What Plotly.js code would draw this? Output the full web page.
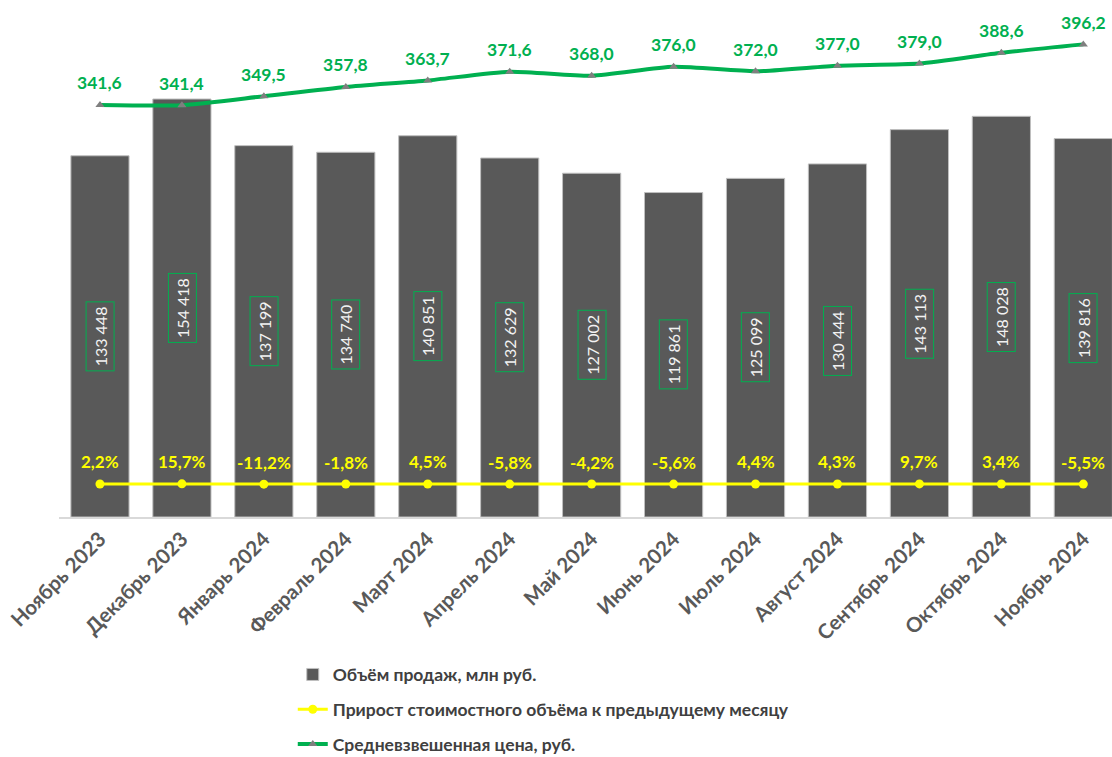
<!DOCTYPE html>
<html>
<head>
<meta charset="utf-8">
<script src="https://cdn.plot.ly/plotly-3.0.1.min.js"></script>
<style>html,body{margin:0;padding:0;background:#fff;}#chart{width:1112px;height:757px;}</style>
</head>
<body>
<div id="chart"></div>
<script>
const categories = ["Ноябрь 2023","Декабрь 2023","Январь 2024","Февраль 2024","Март 2024","Апрель 2024","Май 2024","Июнь 2024","Июль 2024","Август 2024","Сентябрь 2024","Октябрь 2024","Ноябрь 2024"];
const salesVolume = [133448,154418,137199,134740,140851,132629,127002,119861,125099,130444,143113,148028,139816];
const growthPct = [2.2,15.7,-11.2,-1.8,4.5,-5.8,-4.2,-5.6,4.4,4.3,9.7,3.4,-5.5];
const avgPrice = [341.6,341.4,349.5,357.8,363.7,371.6,368.0,376.0,372.0,377.0,379.0,388.6,396.2];

const FONT = "Lato, 'Open Sans', sans-serif";
const GREEN = "#00b050";
const YELLOW = "#ffff00";
const BAR = "#595959";

const fmtThousands = v => String(v).replace(/\B(?=(\d{3})+(?!\d))/g, " ");
const fmtDec = v => v.toFixed(1).replace(".", ",");

const growthFrac = growthPct.map(v => v / 100);

const traces = [
  {
    type: "bar", name: "Объём продаж, млн руб.", x: categories, y: salesVolume,
    marker: {color: BAR, line: {color: "#bfbfbf", width: 1}}, width: 0.71,
    legendgroup: "a", hoverinfo: "x+y"
  },
  {
    type: "scatter", mode: "lines+markers", name: "Прирост стоимостного объёма к предыдущему месяцу",
    x: categories, y: growthFrac, yaxis: "y2",
    line: {color: YELLOW, width: 3}, marker: {color: YELLOW, size: 9, symbol: "circle"},
    legendgroup: "b"
  },
  {
    type: "scatter", mode: "lines+markers", name: "Средневзвешенная цена, руб.",
    x: categories, y: avgPrice, yaxis: "y2",
    line: {color: GREEN, width: 4, shape: "spline", smoothing: 0.6},
    marker: {color: "#7f7f7f", size: 8, symbol: "triangle-up"},
    legendgroup: "c"
  }
];

const annotations = [];
categories.forEach((c, i) => {
  annotations.push({
    x: c, y: salesVolume[i] / 2, xref: "x", yref: "y", showarrow: false,
    text: fmtThousands(salesVolume[i]), textangle: -90,
    font: {family: FONT, size: 16, color: "#f2f2f2"},
    bordercolor: GREEN, borderwidth: 1, borderpad: 4
  });
  annotations.push({
    x: c, y: avgPrice[i], xref: "x", yref: "y2", showarrow: false, yshift: 22,
    text: fmtDec(avgPrice[i]),
    font: {family: FONT, size: 17.5, color: GREEN, weight: "bold"}
  });
  annotations.push({
    x: c, y: growthFrac[i], xref: "x", yref: "y2", showarrow: false, yshift: 22,
    text: fmtDec(growthPct[i]) + "%",
    font: {family: FONT, size: 17, color: YELLOW, weight: "bold"}
  });
});

const layout = {
  width: 1112, height: 757,
  margin: {l: 59, r: 0, t: 0, b: 240, autoexpand: false},
  paper_bgcolor: "#ffffff", plot_bgcolor: "#ffffff",
  font: {family: FONT},
  bargap: 0.29,
  showlegend: true,
  xaxis: {
    type: "category", range: [-0.5, 12.35], automargin: false,
    showline: true, linecolor: "#d9d9d9", linewidth: 2,
    ticks: "", showgrid: false, zeroline: false,
    tickangle: -45, tickfont: {family: FONT, size: 20.5, color: BAR, weight: "bold"}
  },
  yaxis: {
    range: [0, 191000], showgrid: false, zeroline: false, automargin: false,
    showticklabels: false, showline: false, ticks: ""
  },
  yaxis2: {
    overlaying: "y", side: "right", range: [-29.74, 436.2], automargin: false,
    showgrid: false, zeroline: false, showticklabels: false, showline: false, ticks: ""
  },
  legend: {
    x: 0.222, y: -0.27, xanchor: "left", yanchor: "top",
    orientation: "v", traceorder: "grouped", tracegroupgap: 9,
    font: {family: FONT, size: 17.5, color: "#404040", weight: "bold"},
    bgcolor: "rgba(0,0,0,0)"
  },
  annotations: annotations
};

Plotly.newPlot("chart", traces, layout, {displayModeBar: false, staticPlot: true});
</script>
</body>
</html>
